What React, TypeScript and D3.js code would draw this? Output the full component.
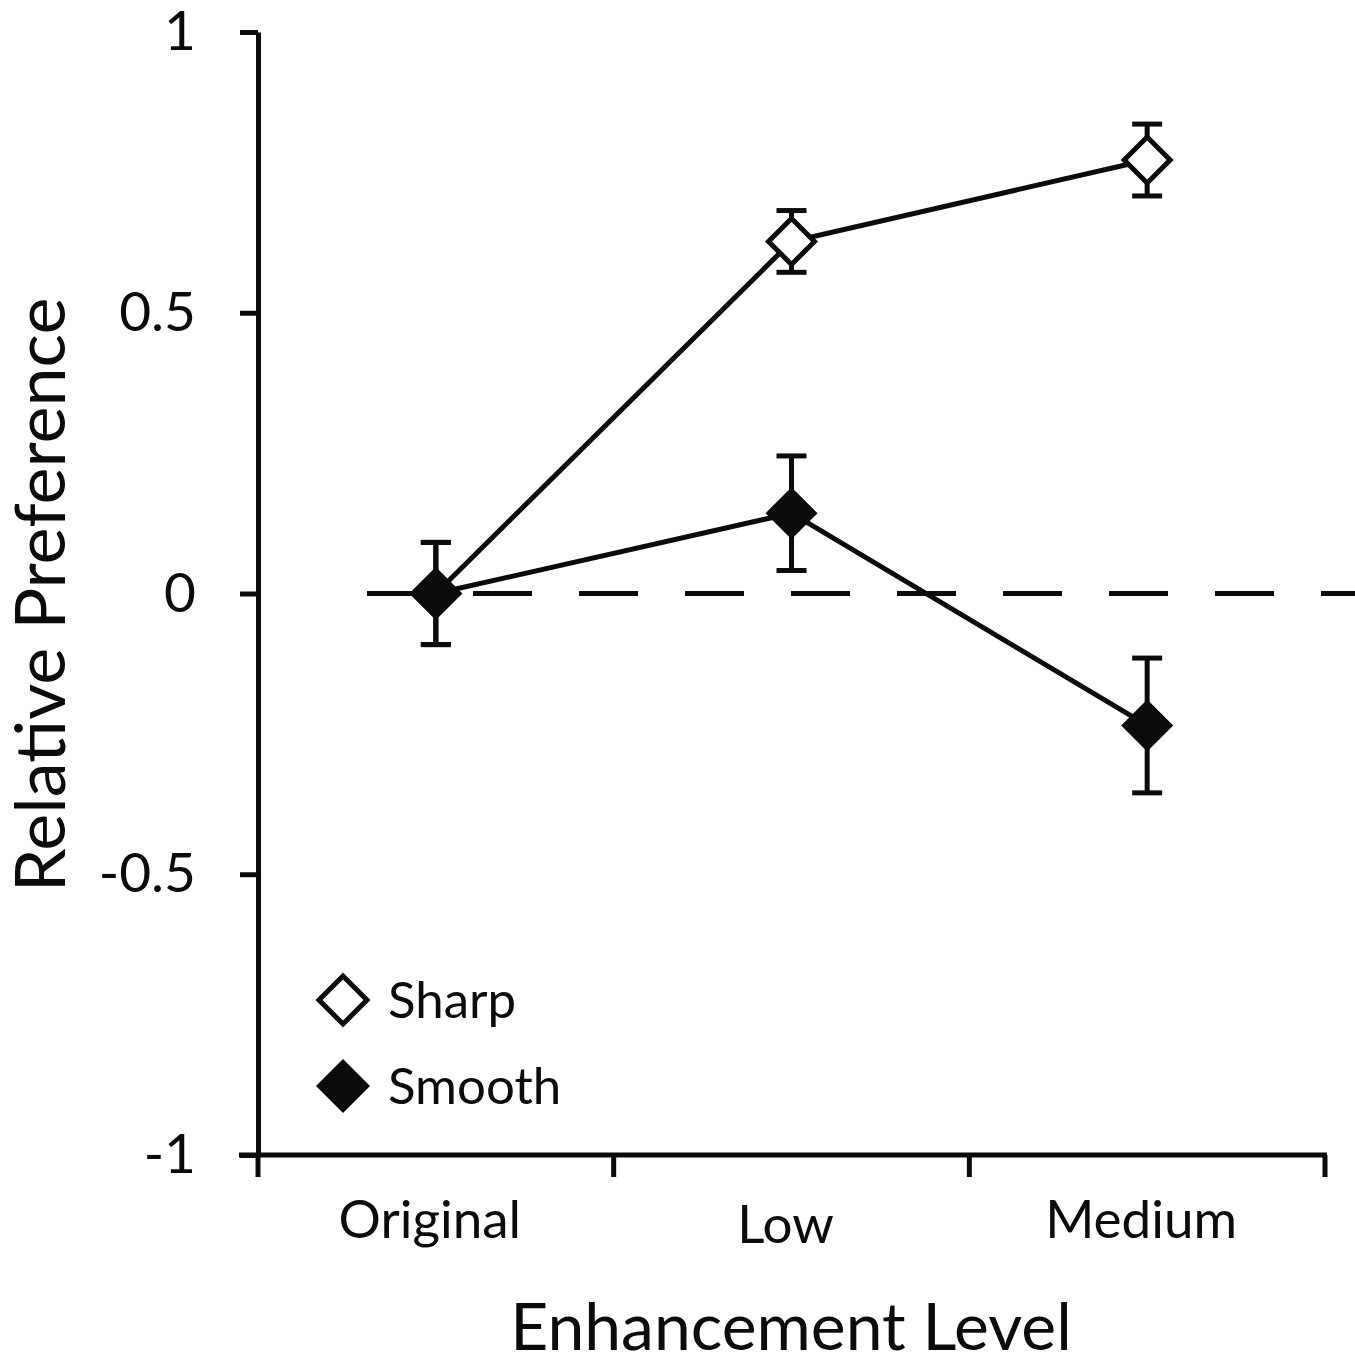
import React, { useRef, useEffect } from 'react';
import * as d3 from 'd3';

const categories = ['Original', 'Low', 'Medium'];
const yTicks = [1, 0.5, 0, -0.5, -1];
const sharpMean = [0, 0.627, 0.772];
const sharpErr = [0.091, 0.055, 0.064];
const smoothMean = [0, 0.143, -0.235];
const smoothErr = [0.091, 0.102, 0.12];
const seriesNames = ['Sharp', 'Smooth'];

const INK = '#0b0b0b';
const FONT = 'Lato, "Open Sans", sans-serif';
const SW = 5;

export default function App() {
  const ref = useRef<SVGSVGElement>(null);

  useEffect(() => {
    if (!ref.current) return;
    const width = 1355;
    const height = 1361;
    const svg = d3.select(ref.current).attr('width', width).attr('height', height);
    svg.selectAll('*').remove();

    const x = d3.scaleBand<string>().domain(categories).range([258, 1325]);
    const y = d3.scaleLinear().domain([-1, 1]).range([1155, 32]);
    const cx = (c: string) => (x(c) as number) + x.bandwidth() / 2;

    // zero reference line
    svg
      .append('line')
      .attr('x1', 367)
      .attr('x2', width)
      .attr('y1', y(0))
      .attr('y2', y(0))
      .attr('stroke', INK)
      .attr('stroke-width', SW)
      .attr('stroke-dasharray', '59,47');

    // y axis
    const yAxis = svg
      .append('g')
      .attr('transform', `translate(258,0)`)
      .call(
        d3
          .axisLeft(y)
          .tickValues(yTicks)
          .tickSize(18)
          .tickSizeOuter(0)
          .tickPadding(44)
          .tickFormat(d => String(d))
      );
    yAxis.select('.domain').attr('stroke', INK).attr('stroke-width', SW);
    yAxis.selectAll('.tick line').attr('stroke', INK).attr('stroke-width', SW);
    yAxis
      .selectAll('.tick text')
      .attr('fill', INK)
      .style('font-family', FONT)
      .style('font-size', '55px');

    // x axis
    const xr = x.range();
    const xg = svg.append('g');
    xg.append('line')
      .attr('x1', 239)
      .attr('x2', xr[1] + 2)
      .attr('y1', y(-1))
      .attr('y2', y(-1))
      .attr('stroke', INK)
      .attr('stroke-width', SW);
    const bounds = [...categories.map(c => x(c) as number), xr[1]];
    xg.selectAll('line.xtick')
      .data(bounds)
      .enter()
      .append('line')
      .attr('class', 'xtick')
      .attr('x1', d => d)
      .attr('x2', d => d)
      .attr('y1', y(-1))
      .attr('y2', y(-1) + 22)
      .attr('stroke', INK)
      .attr('stroke-width', SW);
    xg.selectAll('text')
      .data(categories)
      .enter()
      .append('text')
      .attr('x', d => cx(d) - 6)
      .attr('y', (d, i) => (i === 1 ? 1243 : 1238))
      .attr('text-anchor', 'middle')
      .attr('fill', INK)
      .style('font-family', FONT)
      .style('font-size', '53px')
      .text(d => d);

    // axis titles
    svg
      .append('text')
      .attr('x', 791)
      .attr('y', 1350)
      .attr('text-anchor', 'middle')
      .attr('fill', INK)
      .style('font-family', FONT)
      .style('font-size', '66px')
      .text('Enhancement Level');
    svg
      .append('text')
      .attr('transform', `translate(65,595) rotate(-90)`)
      .attr('text-anchor', 'middle')
      .attr('fill', INK)
      .style('font-family', FONT)
      .style('font-size', '70px')
      .text('Relative Preference');

    const diamond = (half: number) =>
      d3.symbol(d3.symbolSquare, (half * Math.SQRT2) ** 2)() as string;

    const series = [
      { name: seriesNames[0], mean: sharpMean, err: sharpErr, fill: '#ffffff', half: 23 },
      { name: seriesNames[1], mean: smoothMean, err: smoothErr, fill: INK, half: 26 },
    ];

    const line = d3
      .line<number>()
      .x((_, i) => cx(categories[i]))
      .y(d => y(d));

    series.forEach(s => {
      const g = svg.append('g');
      // error bars
      s.mean.forEach((m, i) => {
        const px = cx(categories[i]);
        const top = y(m + s.err[i]);
        const bot = y(m - s.err[i]);
        g.append('line')
          .attr('x1', px).attr('x2', px)
          .attr('y1', top).attr('y2', bot)
          .attr('stroke', INK).attr('stroke-width', SW);
        [top, bot].forEach(yy =>
          g.append('line')
            .attr('x1', px - 15).attr('x2', px + 15)
            .attr('y1', yy).attr('y2', yy)
            .attr('stroke', INK).attr('stroke-width', SW)
        );
      });
      g.append('path')
        .datum(s.mean)
        .attr('d', line)
        .attr('fill', 'none')
        .attr('stroke', INK)
        .attr('stroke-width', SW);
      g.selectAll('path.marker')
        .data(s.mean)
        .enter()
        .append('path')
        .attr('class', 'marker')
        .attr('d', diamond(s.half))
        .attr('transform', (d, i) => `translate(${cx(categories[i])},${y(d)}) rotate(45)`)
        .attr('fill', s.fill)
        .attr('stroke', INK)
        .attr('stroke-width', s.fill === INK ? 0 : SW);
    });

    // legend
    const legend = svg.append('g');
    series.forEach((s, i) => {
      const ly = 1000 + i * 86;
      legend
        .append('path')
        .attr('d', diamond(s.fill === INK ? 27 : 24))
        .attr('transform', `translate(343,${ly}) rotate(45)`)
        .attr('fill', s.fill)
        .attr('stroke', INK)
        .attr('stroke-width', s.fill === INK ? 0 : SW);
      legend
        .append('text')
        .attr('x', 388)
        .attr('y', ly + 18)
        .attr('fill', INK)
        .style('font-family', FONT)
        .style('font-size', '51px')
        .text(s.name);
    });
  }, []);

  return <svg ref={ref} style={{ position: 'absolute', left: 0, top: 0, background: '#fff' }} />;
}
